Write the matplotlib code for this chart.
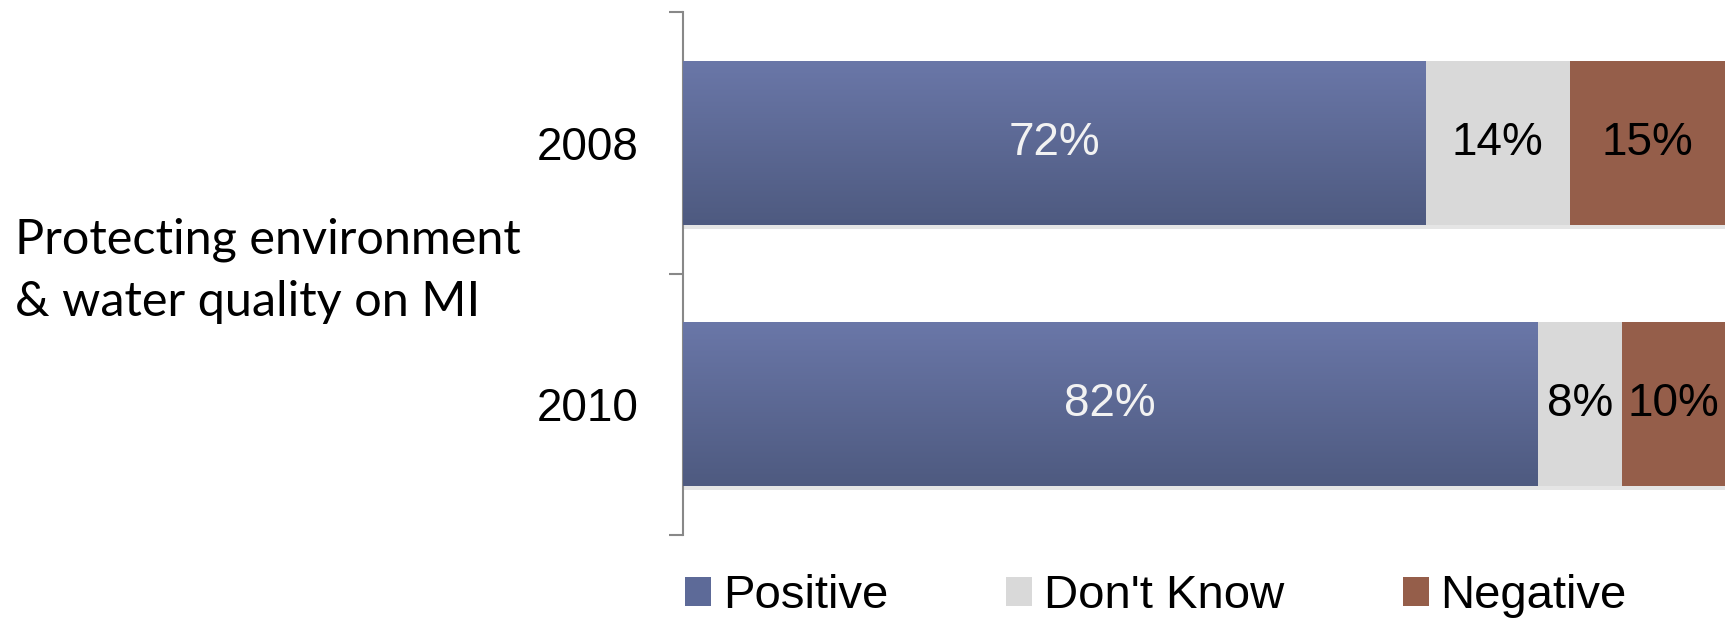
import numpy as np
import matplotlib
matplotlib.use("Agg")
import matplotlib.pyplot as plt
import matplotlib.patheffects as pe
from matplotlib.colors import LinearSegmentedColormap
from matplotlib.patches import Patch

years = ["2008", "2010"]
positive = [71.3, 82.0]
dont_know = [13.8, 8.1]
negative = [14.9, 9.9]
pos_labels = ["72%", "82%"]
dk_labels = ["14%", "8%"]
neg_labels = ["15%", "10%"]
row_title = "Protecting environment\n& water quality on MI"

plt.rcParams['font.family'] = ['Liberation Sans', 'DejaVu Sans']

fig = plt.figure(figsize=(17.25, 6.2), dpi=100)
ax = fig.add_axes([683 / 1725, 1 - 535 / 620, 1 - 683 / 1725, (535 - 12) / 620])

y = np.arange(len(years))
h = 0.626
shadow = [pe.SimplePatchShadow(offset=(0, -3), shadow_rgbFace='#aaaaaa', alpha=0.3), pe.Normal()]

pos_bars = ax.barh(y, positive, height=h, color='#5d6a98', path_effects=shadow, zorder=2)
dk_left = positive
ax.barh(y, dont_know, left=dk_left, height=h, color='#d9d9d9', path_effects=shadow, zorder=2)
neg_left = [p + d for p, d in zip(positive, dont_know)]
ax.barh(y, negative, left=neg_left, height=h, color='#955e4a', path_effects=shadow, zorder=2)

# gradient on the positive bars
cmap = LinearSegmentedColormap.from_list('blu', ['#6a77a8', '#4e5a80'])
grad = np.linspace(0, 1, 256).reshape(-1, 1)
for bar in pos_bars:
    x0, y0 = bar.get_x(), bar.get_y()
    im = ax.imshow(grad, cmap=cmap, aspect='auto', zorder=3,
                   extent=[x0, x0 + bar.get_width(), y0 + bar.get_height(), y0])
    im.set_clip_path(bar)

for i in range(len(years)):
    ax.text(positive[i] / 2, y[i], pos_labels[i], ha='center', va='center',
            fontsize=33, color='#f2f2f2', zorder=4)
    ax.text(dk_left[i] + dont_know[i] / 2, y[i], dk_labels[i], ha='center', va='center',
            fontsize=33, color='black', zorder=4)
    ax.text(neg_left[i] + negative[i] / 2, y[i], neg_labels[i], ha='center', va='center',
            fontsize=33, color='black', zorder=4)

ax.set_xlim(0, 100)
ax.set_ylim(1.5, -0.5)
ax.set_yticks(y)
ax.set_yticklabels(years, fontsize=33)
ax.tick_params(axis='y', which='major', length=0, pad=32)
ax.set_yticks([-0.5, 0.5, 1.5], minor=True)
ax.tick_params(axis='y', which='minor', length=10, width=1.5, color='#888888')
ax.set_xticks([])
for s in ['top', 'right', 'bottom']:
    ax.spines[s].set_visible(False)
ax.spines['left'].set_color('#888888')
ax.spines['left'].set_linewidth(1.5)

fig.text(15 / 1725, 1 - 271 / 620, row_title, ha='left', va='center',
         fontsize=35, family=['Lato', 'DejaVu Sans'], linespacing=1.5)

handles = [Patch(facecolor='#5d6a98'), Patch(facecolor='#d9d9d9'), Patch(facecolor='#955e4a')]
fig.legend(handles, ['Positive', "Don't Know", 'Negative'], loc='center',
           bbox_to_anchor=(1156 / 1725, 24 / 620), ncol=3, frameon=False, fontsize=34,
           handlelength=0.55, handleheight=0.55, handletextpad=0.25, columnspacing=2.5,
           borderpad=0, borderaxespad=0)

fig.savefig("out.png", dpi=100)
